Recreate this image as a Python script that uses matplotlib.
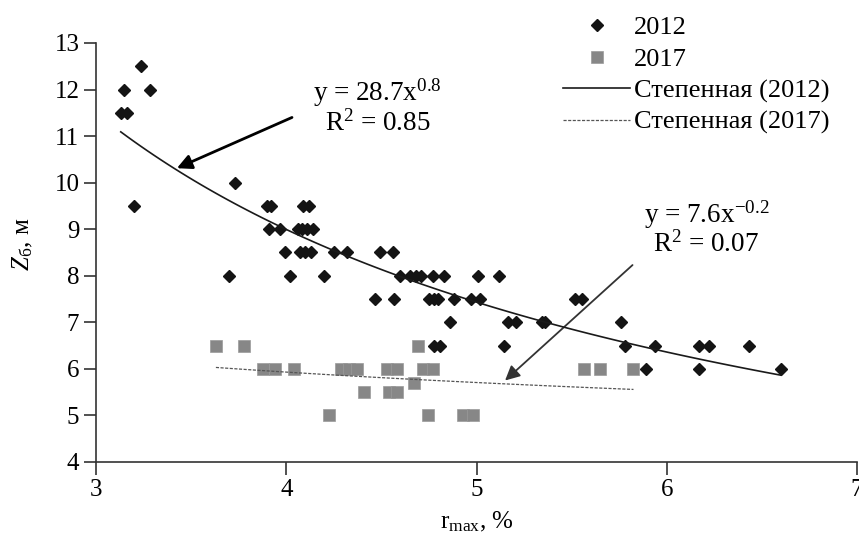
import numpy as np
import matplotlib
matplotlib.use("Agg")
import matplotlib.pyplot as plt

plt.rcParams["font.family"] = ["Liberation Serif", "DejaVu Serif"]
plt.rcParams["mathtext.fontset"] = "custom"
plt.rcParams["mathtext.rm"] = "Liberation Serif"
plt.rcParams["mathtext.it"] = "Liberation Serif:italic"

# 2012 observations (r_max, %; Z_б, м)
x2012 = [3.13, 3.165, 3.147, 3.235, 3.284, 3.20, 3.728, 3.70,
         3.90, 3.92, 4.09, 4.12,
         3.91, 3.965, 4.06, 4.08, 4.11, 4.14,
         3.995, 4.07, 4.10, 4.13, 4.25, 4.32, 4.49, 4.56,
         4.02, 4.20, 4.60, 4.65, 4.68, 4.71, 4.77, 4.83, 5.01, 5.12,
         4.465, 4.565, 4.75, 4.775, 4.80, 4.88, 4.97, 5.02, 5.52, 5.555,
         4.86, 5.165, 5.205, 5.345, 5.36, 5.76,
         4.775, 4.81, 5.147, 5.78, 5.94, 6.17, 6.22, 6.43,
         5.89, 6.17, 6.60]
y2012 = [11.5, 11.5, 12.0, 12.5, 12.0, 9.5, 10.0, 8.0,
         9.5, 9.5, 9.5, 9.5,
         9.0, 9.0, 9.0, 9.0, 9.0, 9.0,
         8.5, 8.5, 8.5, 8.5, 8.5, 8.5, 8.5, 8.5,
         8.0, 8.0, 8.0, 8.0, 8.0, 8.0, 8.0, 8.0, 8.0, 8.0,
         7.5, 7.5, 7.5, 7.5, 7.5, 7.5, 7.5, 7.5, 7.5, 7.5,
         7.0, 7.0, 7.0, 7.0, 7.0, 7.0,
         6.5, 6.5, 6.5, 6.5, 6.5, 6.5, 6.5, 6.5,
         6.0, 6.0, 6.0]

# 2017 observations
x2017 = [3.63, 3.78, 4.69,
         3.877, 3.942, 4.04, 4.29, 4.33, 4.37, 4.53, 4.58, 4.72, 4.77, 5.565, 5.65, 5.825,
         4.67,
         4.41, 4.54, 4.58,
         4.226, 4.744, 4.93, 4.98]
y2017 = [6.5, 6.5, 6.5,
         6.0, 6.0, 6.0, 6.0, 6.0, 6.0, 6.0, 6.0, 6.0, 6.0, 6.0, 6.0, 6.0,
         5.7,
         5.5, 5.5, 5.5,
         5.0, 5.0, 5.0, 5.0]

eq2012 = ["y = 28.7x$^{0.8}$", "R$^{2}$ = 0.85"]
eq2017 = ["y = 7.6x$^{\u22120.2}$", "R$^{2}$ = 0.07"]


def power_trend(x, y, n=100):
    """Excel-style power trendline: fit in log-log space."""
    x = np.asarray(x)
    b, lna = np.polyfit(np.log(x), np.log(np.asarray(y)), 1)
    xs = np.linspace(x.min(), x.max(), n)
    return xs, np.exp(lna) * xs ** b


fs = 18
fs_eq = 19.5
fig = plt.figure(figsize=(8.59, 5.37), dpi=100)
ax = fig.add_axes([0.1118, 0.1397, 0.8859, 0.7803])

ax.plot(x2012, y2012, ls="none", marker="D", ms=6.6, color="#141414",
        label="2012", zorder=3)
ax.plot(x2017, y2017, ls="none", marker="s", ms=9.0, color="#878787",
        mec="#9a9a9a", mew=0.5, label="2017", zorder=3)

tx, ty = power_trend(x2012, y2012)
ax.plot(tx, ty, color="#1a1a1a", lw=1.2, label="Степенная (2012)", zorder=4)
tx, ty = power_trend(x2017, y2017)
ax.plot(tx, ty, color="#555555", lw=0.9, dashes=(2.5, 1.2),
        label="Степенная (2017)", zorder=4)

# equations + arrows
ax.text(4.479, 11.93, eq2012[0], ha="center", va="center", fontsize=fs_eq)
ax.text(4.479, 11.28, eq2012[1], ha="center", va="center", fontsize=fs_eq)
ax.annotate("", xy=(3.425, 10.31), xytext=(4.03, 11.40),
            arrowprops=dict(arrowstyle="-|>", color="black", lw=2.0,
                            mutation_scale=22, shrinkA=0, shrinkB=0))
ax.text(6.208, 9.32, eq2017[0], ha="center", va="center", fontsize=fs_eq)
ax.text(6.208, 8.68, eq2017[1], ha="center", va="center", fontsize=fs_eq)
ax.annotate("", xy=(5.15, 5.75), xytext=(5.82, 8.23),
            arrowprops=dict(arrowstyle="-|>", color="#333333", lw=1.3,
                            mutation_scale=22, shrinkA=0, shrinkB=0))

ax.set_xlim(3, 7)
ax.set_ylim(4, 13)
ax.set_xticks(range(3, 8))
ax.set_yticks(range(4, 14))
for s in ("top", "right"):
    ax.spines[s].set_visible(False)
for s in ("left", "bottom"):
    ax.spines[s].set_linewidth(1.2)
    ax.spines[s].set_color("#333333")
ax.tick_params(direction="out", length=9, width=1.2, color="#333333",
               labelsize=fs, pad=3)

ax.set_xlabel("r$_{\\mathrm{max}}$, %", fontsize=fs)
ax.xaxis.set_label_coords(0.5, -0.115)
ax.set_ylabel("$Z$$_{\\mathrm{б}}$, м", fontsize=fs)
ax.yaxis.set_label_coords(-0.08, 0.52)

ax.legend(loc="upper left", bbox_to_anchor=(563 / 859, 1 - 16 / 537),
          bbox_transform=fig.transFigure, frameon=False, fontsize=19,
          handlelength=2.55, handletextpad=0.15, labelspacing=0.3,
          borderpad=0, borderaxespad=0)

fig.savefig("out.png", dpi=100)
